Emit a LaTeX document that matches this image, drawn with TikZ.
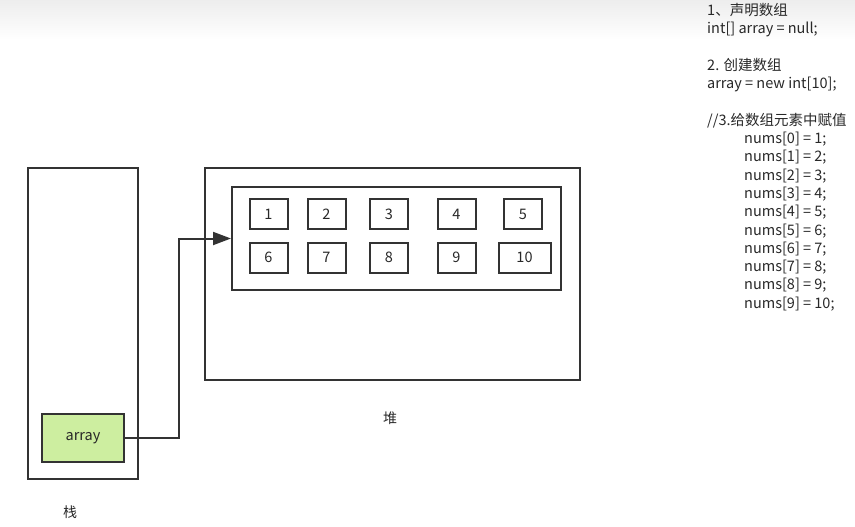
\documentclass[tikz,border=0pt]{standalone}
\usepackage{fontspec}
\setmainfont{Noto Sans CJK SC}
\usepackage{tikz}
\usetikzlibrary{arrows.meta}
\usepackage{xcolor}
\definecolor{myline}{RGB}{51,51,51}
\definecolor{mygreen}{RGB}{205,238,160}
\definecolor{mytext}{RGB}{40,40,40}

\begin{document}
\begin{tikzpicture}[x=1pt,y=-1pt,
  box/.style={draw=myline, line width=2pt, rectangle, inner sep=0pt, text=mytext, font=\fontsize{14.5}{16}\selectfont},
  cell/.style={box, minimum width=38pt, minimum height=30pt}]
  \useasboundingbox (0,0) rectangle (855,527);
  \shade[top color=black!7, bottom color=white, draw=none] (0,0) rectangle (855,40);
  % stack
  \node[box, minimum width=110pt, minimum height=311pt] (stack) at (83,323.5) {};
  \node[box, fill=mygreen, minimum width=82pt, minimum height=48pt] (array) at (83,438) {array};
  \node[text=mytext, font=\fontsize{14}{16}\selectfont] (stacklabel) at (70,512) {栈};
  % heap
  \node[box, minimum width=375pt, minimum height=212pt] (heap) at (392.5,274) {};
  \node[box, minimum width=329pt, minimum height=103pt] (inner) at (396.5,238.5) {};
  \node[text=mytext, font=\fontsize{14}{16}\selectfont] (heaplabel) at (390,418) {堆};
  \foreach \x/\n in {268.5/1, 326.5/2, 389/3, 456.5/4, 523/5}
    \node[cell] (c\n) at (\x,214) {\n};
  \foreach \x/\n in {268.5/6, 326.5/7, 389/8, 456.5/9}
    \node[cell] (c\n) at (\x,257.5) {\n};
  \node[cell, minimum width=52pt] (c10) at (524.5,257.5) {10};
  % reference
  \draw[myline, line width=2pt, -{Triangle[length=18pt,width=13pt]}] (array.east) -- ++(54,0) |- (inner.west);
  % code
  \node[anchor=north west, align=left, inner sep=0pt, text=mytext, font=\fontsize{14.5}{18.3}\selectfont] (code) at (707,3) {%
    1、声明数组\\
    int[] array = null;\\
    \mbox{}\\
    2. 创建数组\\
    array = new int[10];\\
    \mbox{}\\
    //3.给数组元素中赋值\\
    \hspace*{37pt}nums[0] = 1;\\
    \hspace*{37pt}nums[1] = 2;\\
    \hspace*{37pt}nums[2] = 3;\\
    \hspace*{37pt}nums[3] = 4;\\
    \hspace*{37pt}nums[4] = 5;\\
    \hspace*{37pt}nums[5] = 6;\\
    \hspace*{37pt}nums[6] = 7;\\
    \hspace*{37pt}nums[7] = 8;\\
    \hspace*{37pt}nums[8] = 9;\\
    \hspace*{37pt}nums[9] = 10;};
\end{tikzpicture}
\end{document}
